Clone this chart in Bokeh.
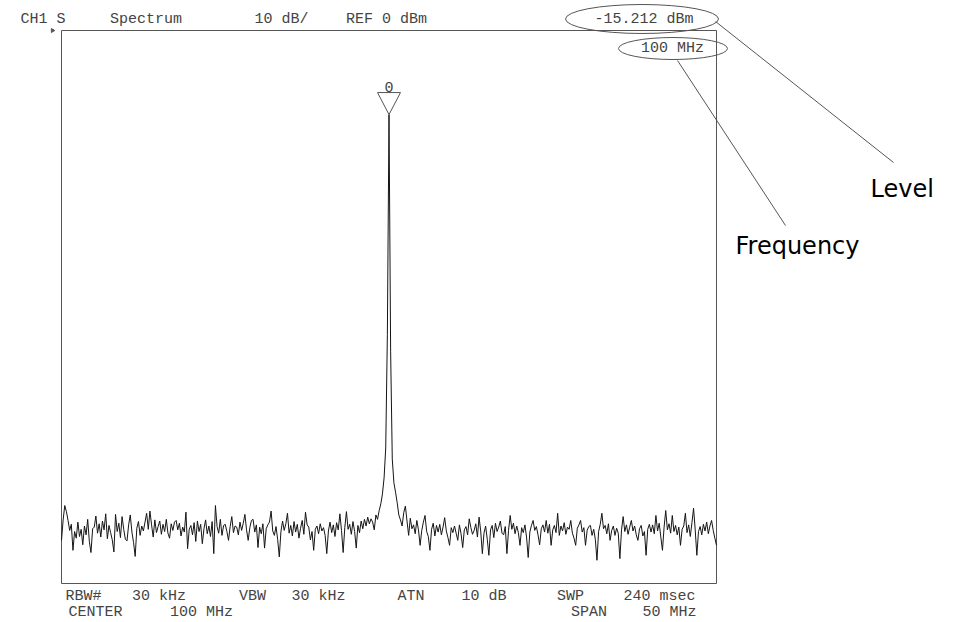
import numpy as np
from bokeh.plotting import figure
from bokeh.models import Range1d, Label
from bokeh.embed import file_html
from bokeh.resources import INLINE

# ---------------- instrument settings (as shown on the screen) ----------------
CENTER_MHZ = 100.0
SPAN_MHZ = 50.0
REF_DBM = 0.0
DB_PER_DIV = 10.0
N_DIV = 10
MARKER_LEVEL_DBM = -15.212
MARKER_FREQ_MHZ = 100.0

header_texts = ["CH1 S", "Spectrum", "10 dB/", "REF 0 dBm"]
footer_row1 = ["RBW#", "30 kHz", "VBW", "30 kHz", "ATN", "10 dB", "SWP", "240 msec"]
footer_row2 = ["CENTER", "100 MHz", "SPAN", "50 MHz"]
marker_level_text = "-15.212 dBm"
marker_freq_text = "100 MHz"
callout_texts = ["Level", "Frequency"]
marker_label = "0"

# ---------------- trace (dBm), 401 sweep points ----------------
trace_left = [
    -92.2, -88.5, -85.9, -87.0, -88.6, -90.4, -89.3, -94.0, -90.6, -91.8,
    -88.9, -91.5, -90.2, -93.0, -89.6, -91.2, -88.4, -92.4, -94.4, -90.1,
    -89.8, -87.8, -90.9, -89.2, -91.6, -88.7, -90.3, -87.4, -91.9, -89.5,
    -90.8, -92.1, -94.3, -87.5, -90.6, -89.1, -91.7, -87.9, -90.2, -92.0,
    -92.3, -89.4, -87.6, -90.7, -92.6, -95.1, -90.0, -88.8, -91.3, -89.6,
    -90.5, -88.9, -87.3, -90.2, -86.9, -89.4, -91.6, -88.5, -90.8, -89.7,
    -88.7, -91.1, -89.3, -90.6, -88.4, -90.9, -91.8, -89.2, -90.4, -88.9,
    -88.6, -90.3, -89.1, -91.4, -89.8, -90.7, -87.1, -93.7, -90.2, -89.5,
    -91.2, -89.0, -92.4, -88.7, -90.6, -89.3, -92.8, -90.1, -88.5, -91.0,
    -89.6, -91.5, -88.8, -94.6, -85.9, -89.7, -90.9, -88.4, -91.3, -89.5,
    -89.3, -90.6, -92.2, -89.7, -87.9, -90.8, -89.6, -89.8, -91.2, -88.9,
    -90.4, -89.1, -87.5, -90.3, -92.2, -89.9, -88.6, -88.4, -90.7, -89.4,
    -93.5, -89.8, -91.0, -89.2, -93.6, -90.1, -89.4, -88.9, -86.9, -90.5,
    -91.3, -89.7, -92.0, -95.2, -90.6, -88.7, -90.4, -89.2, -87.3, -90.9,
    -89.5, -91.4, -88.8, -90.7, -89.3, -91.8, -90.0, -88.6, -91.1, -87.1,
    -89.4, -89.8, -92.1, -90.6, -94.0, -90.2, -89.6, -91.0, -89.2, -90.5,
    -89.9, -91.3, -94.6, -90.5, -88.9, -90.8, -89.4, -91.5, -89.0, -90.3,
    -87.4, -90.4, -94.4, -89.9, -87.0, -90.2, -89.3, -91.1, -88.8, -90.6,
    -93.6, -89.5, -90.8, -88.7, -90.1, -88.4, -89.6, -88.0, -89.2, -88.3,
]
trace_peak = [
    -88.9, -90.3, -87.6, -88.4, -86.8, -85.6, -83.8, -80.9, -75.5, -55.0,
    -15.2, -58.0, -77.5, -81.8, -83.5, -85.4, -87.6,
]
trace_right = [
    -88.5, -89.6, -87.2,
    -86.0, -88.7, -91.3, -88.2, -90.1, -89.4, -91.0, -88.6, -90.3, -93.1,
    -90.4, -88.9, -87.7, -90.6, -91.5, -94.0, -90.2, -89.1, -91.4, -89.5,
    -90.7, -89.3, -91.2, -89.8, -88.1, -90.5, -91.7, -93.1, -89.9, -90.8,
    -89.6, -90.9, -92.2, -89.4, -91.0, -93.5, -90.3, -89.7, -91.2, -88.3,
    -89.9, -91.1, -90.4, -89.2, -91.6, -88.0, -90.5, -94.6, -90.9, -89.6,
    -92.0, -94.9, -90.3, -89.5, -91.7, -89.1, -90.6, -89.8, -88.7, -90.9,
    -91.2, -89.7, -94.6, -90.4, -87.7, -90.2, -89.1, -91.0, -89.6, -90.8,
    -93.1, -89.9, -90.8, -89.4, -91.6, -95.3, -90.7, -89.5, -88.6, -90.4,
    -89.7, -91.2, -93.0, -90.1, -89.4, -90.7, -88.6, -90.9, -89.3, -93.1,
    -90.3, -89.5, -90.8, -87.3, -91.3, -89.6, -90.5, -89.0, -91.1, -89.8,
    -90.2, -88.6, -90.9, -91.8, -93.1, -90.0, -89.4, -88.6, -90.7, -89.9,
    -93.1, -90.4, -89.7, -89.5, -91.3, -90.2, -92.0, -95.8, -90.6, -89.3,
    -87.3, -90.1, -89.5, -91.0, -89.2, -92.2, -90.4, -89.6, -91.3, -90.0,
    -90.9, -95.5, -90.3, -87.9, -90.6, -89.4, -91.1, -89.8, -88.6, -90.5,
    -89.6, -91.2, -92.2, -90.1, -89.5, -91.4, -90.6, -94.9, -90.2, -89.3,
    -90.7, -89.4, -91.0, -87.7, -90.5, -89.1, -91.6, -94.0, -89.8, -86.8,
    -90.3, -89.2, -90.9, -87.7, -90.6, -89.5, -91.2, -89.8, -93.1, -90.2,
    -89.6, -87.3, -90.8, -89.4, -91.5, -89.0, -86.4, -90.3, -94.9, -90.6,
    -89.7, -91.2, -89.3, -90.5, -88.9, -91.0, -89.6, -88.6, -90.4, -91.8, -93.1,
]

trace_dbm = np.array(trace_left + trace_peak + trace_right)
f_start = CENTER_MHZ - SPAN_MHZ / 2
f_stop = CENTER_MHZ + SPAN_MHZ / 2
freqs = np.linspace(f_start, f_stop, len(trace_dbm))
bottom_dbm = REF_DBM - DB_PER_DIV * N_DIV

# ---------------- layout: reference-pixel geometry -> data coords ----------------
W, H = 950, 620
PX_L, PX_R, PX_T, PX_B = 61, 716, 30, 583      # graticule box in reference pixels
MHZ_PER_PX = SPAN_MHZ / (PX_R - PX_L)
DB_PER_PX = (REF_DBM - bottom_dbm) / (PX_B - PX_T)


def fx(px):
    return f_start + (px - PX_L) * MHZ_PER_PX


def fy(py):
    return REF_DBM - (py - PX_T) * DB_PER_PX


p = figure(width=W, height=H, output_backend="svg", toolbar_location=None,
           x_range=Range1d(fx(0), fx(W)),
           y_range=Range1d(fy(H), fy(0)),
           x_axis_type=None, y_axis_type=None, min_border=0,
           outline_line_color=None, background_fill_color="white",
           border_fill_color="white")
p.xgrid.visible = False
p.ygrid.visible = False

FRAME_C = "#555555"
TXT_C = "#444444"
MONO = "Liberation Mono"
MONO_SIZE = "15px"


def screen_text(txt, x0, x1, y):
    """Monospace screen text centred in the pixel extent it occupies on the display."""
    p.add_layout(Label(x=fx((x0 + x1) / 2), y=fy(y), text=txt, text_align="center",
                       text_baseline="middle", text_font=MONO, text_font_size=MONO_SIZE,
                       text_color=TXT_C))


# graticule box
p.quad(left=[f_start], right=[f_stop], top=[REF_DBM], bottom=[bottom_dbm],
       fill_color=None, line_color=FRAME_C, line_width=1)

# reference level indicator
p.scatter(x=[fx(52)], y=[REF_DBM], marker="triangle", size=4, angle=-np.pi / 2,
          color=FRAME_C)

# trace
p.line(freqs, trace_dbm, line_color="#151515", line_width=1)

# marker triangle at peak
ipk = int(np.argmax(trace_dbm))
pf, pv = freqs[ipk], trace_dbm[ipk]
hw = 11.5 * MHZ_PER_PX
th = 22 * DB_PER_PX
p.patch([pf - hw, pf + hw, pf], [pv + th, pv + th, pv], fill_color=None,
        line_color=FRAME_C, line_width=1)
p.add_layout(Label(x=pf, y=pv + 28 * DB_PER_PX, text=marker_label, text_align="center",
                   text_baseline="middle", text_font=MONO, text_font_size=MONO_SIZE,
                   text_color=TXT_C))

# header line
for txt, (x0, x1) in zip(header_texts, [(13, 72), (98, 193), (247, 315), (332, 440)]):
    screen_text(txt, x0, x1, 18.5)

# marker readouts with ellipses
p.ellipse(x=[fx(641.5), fx(672.5)], y=[fy(18.5), fy(48)], width=[153, 109],
          height=[29, 22], width_units="screen", height_units="screen",
          fill_color=None, line_color=FRAME_C, line_width=1)
screen_text(marker_level_text, 577, 710, 18.5)
screen_text(marker_freq_text, 632, 712, 48)

# callout lines and captions
p.line([fx(715), fx(893)], [fy(21), fy(162)], line_color=FRAME_C, line_width=1)
p.line([fx(677), fx(785)], [fy(60), fy(225)], line_color=FRAME_C, line_width=1)
for txt, left, base in zip(callout_texts, [870, 735], [188, 245]):
    p.add_layout(Label(x=fx(left), y=fy(base), text=txt, text_align="left",
                       text_baseline="alphabetic", text_font="DejaVu Sans",
                       text_font_size="24px", text_color="#000000"))

# footer lines
row1_ext = [(60, 106), (123, 194), (234, 270), (283, 353),
            (393, 428), (453, 514), (552, 588), (610, 708)]
for txt, (x0, x1) in zip(footer_row1, row1_ext):
    screen_text(txt, x0, x1, 595.5)
row2_ext = [(60, 130), (161, 241), (565, 612), (630, 708)]
for txt, (x0, x1) in zip(footer_row2, row2_ext):
    screen_text(txt, x0, x1, 611.5)

open("out.html", "w").write(file_html(p, INLINE))
